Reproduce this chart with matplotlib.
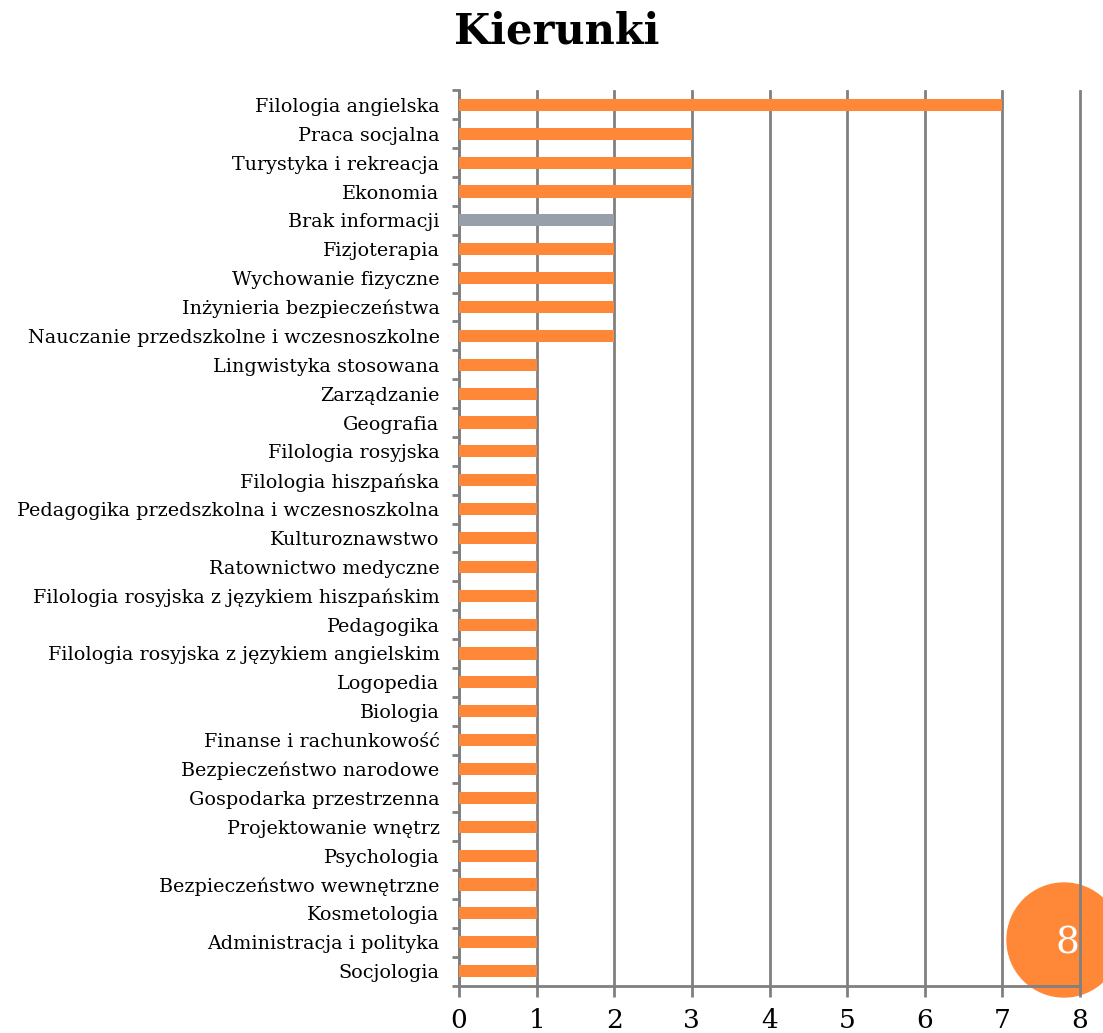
import matplotlib
matplotlib.use("Agg")
import matplotlib.pyplot as plt
import numpy as np
from matplotlib.patches import Ellipse

# dane: kierunki studiów (od góry do dołu)
kierunki = [
    "Filologia angielska", "Praca socjalna", "Turystyka i rekreacja", "Ekonomia",
    "Brak informacji", "Fizjoterapia", "Wychowanie fizyczne",
    "Inżynieria bezpieczeństwa", "Nauczanie przedszkolne i wczesnoszkolne",
    "Lingwistyka stosowana", "Zarządzanie", "Geografia", "Filologia rosyjska",
    "Filologia hiszpańska", "Pedagogika przedszkolna i wczesnoszkolna",
    "Kulturoznawstwo", "Ratownictwo medyczne",
    "Filologia rosyjska z językiem hiszpańskim", "Pedagogika",
    "Filologia rosyjska z językiem angielskim", "Logopedia", "Biologia",
    "Finanse i rachunkowość", "Bezpieczeństwo narodowe", "Gospodarka przestrzenna",
    "Projektowanie wnętrz", "Psychologia", "Bezpieczeństwo wewnętrzne",
    "Kosmetologia", "Administracja i polityka", "Socjologia",
]
liczby = [7, 3, 3, 3, 2, 2, 2, 2, 2] + [1] * 22
x_ticks = list(range(0, 9))

ORANGE = "#FF8838"
GREY_BAR = "#969FAA"
GRID = "#808080"

plt.rcParams['font.family'] = ['DejaVu Serif']

fig = plt.figure(figsize=(11.03, 10.33), dpi=100)
ax = fig.add_axes([459 / 1103, 1 - 985.5 / 1033, (1080 - 459) / 1103, (985.5 - 90.5) / 1033])
ax.set_facecolor("none")

# kółko z numerem slajdu (pod osiami)
circle = Ellipse((1064 / 1103, 1 - 940 / 1033), 114 / 1103, 114 / 1033,
                 transform=fig.transFigure, color=ORANGE, zorder=-1)
fig.patches.append(circle)
fig.text(1067 / 1103, 1 - 943 / 1033, "8", color="white", fontsize=27,
         ha="center", va="center", zorder=5)

y = np.arange(len(kierunki))
colors = [GREY_BAR if k == "Brak informacji" else ORANGE for k in kierunki]
ax.barh(y, liczby, height=0.42, color=colors, zorder=3)

ax.set_ylim(len(kierunki) - 0.5, -0.5)
ax.set_xlim(0, 8)
ax.set_yticks(y)
ax.set_yticklabels(kierunki, fontsize=13.8)
ax.set_yticks(np.arange(-0.5, len(kierunki)), minor=True)
ax.tick_params(axis="y", which="major", length=0, pad=14)
ax.tick_params(axis="y", which="minor", length=5, width=2, color=GRID)

ax.set_xticks(x_ticks)
ax.tick_params(axis="x", length=8, width=2, color=GRID, labelsize=19, pad=8)

ax.grid(axis="x", color=GRID, linewidth=2, zorder=1)
for gl in ax.xaxis.get_gridlines():
    gl.set_clip_on(False)
ax.set_axisbelow(True)
for s in ["top", "right"]:
    ax.spines[s].set_visible(False)
for s in ["left", "bottom"]:
    ax.spines[s].set_color(GRID)
    ax.spines[s].set_linewidth(2)

fig.text(557 / 1103, 1 - 32 / 1033, "Kierunki", fontsize=30, fontweight="bold",
         ha="center", va="center")

fig.savefig("out.png", dpi=100)
